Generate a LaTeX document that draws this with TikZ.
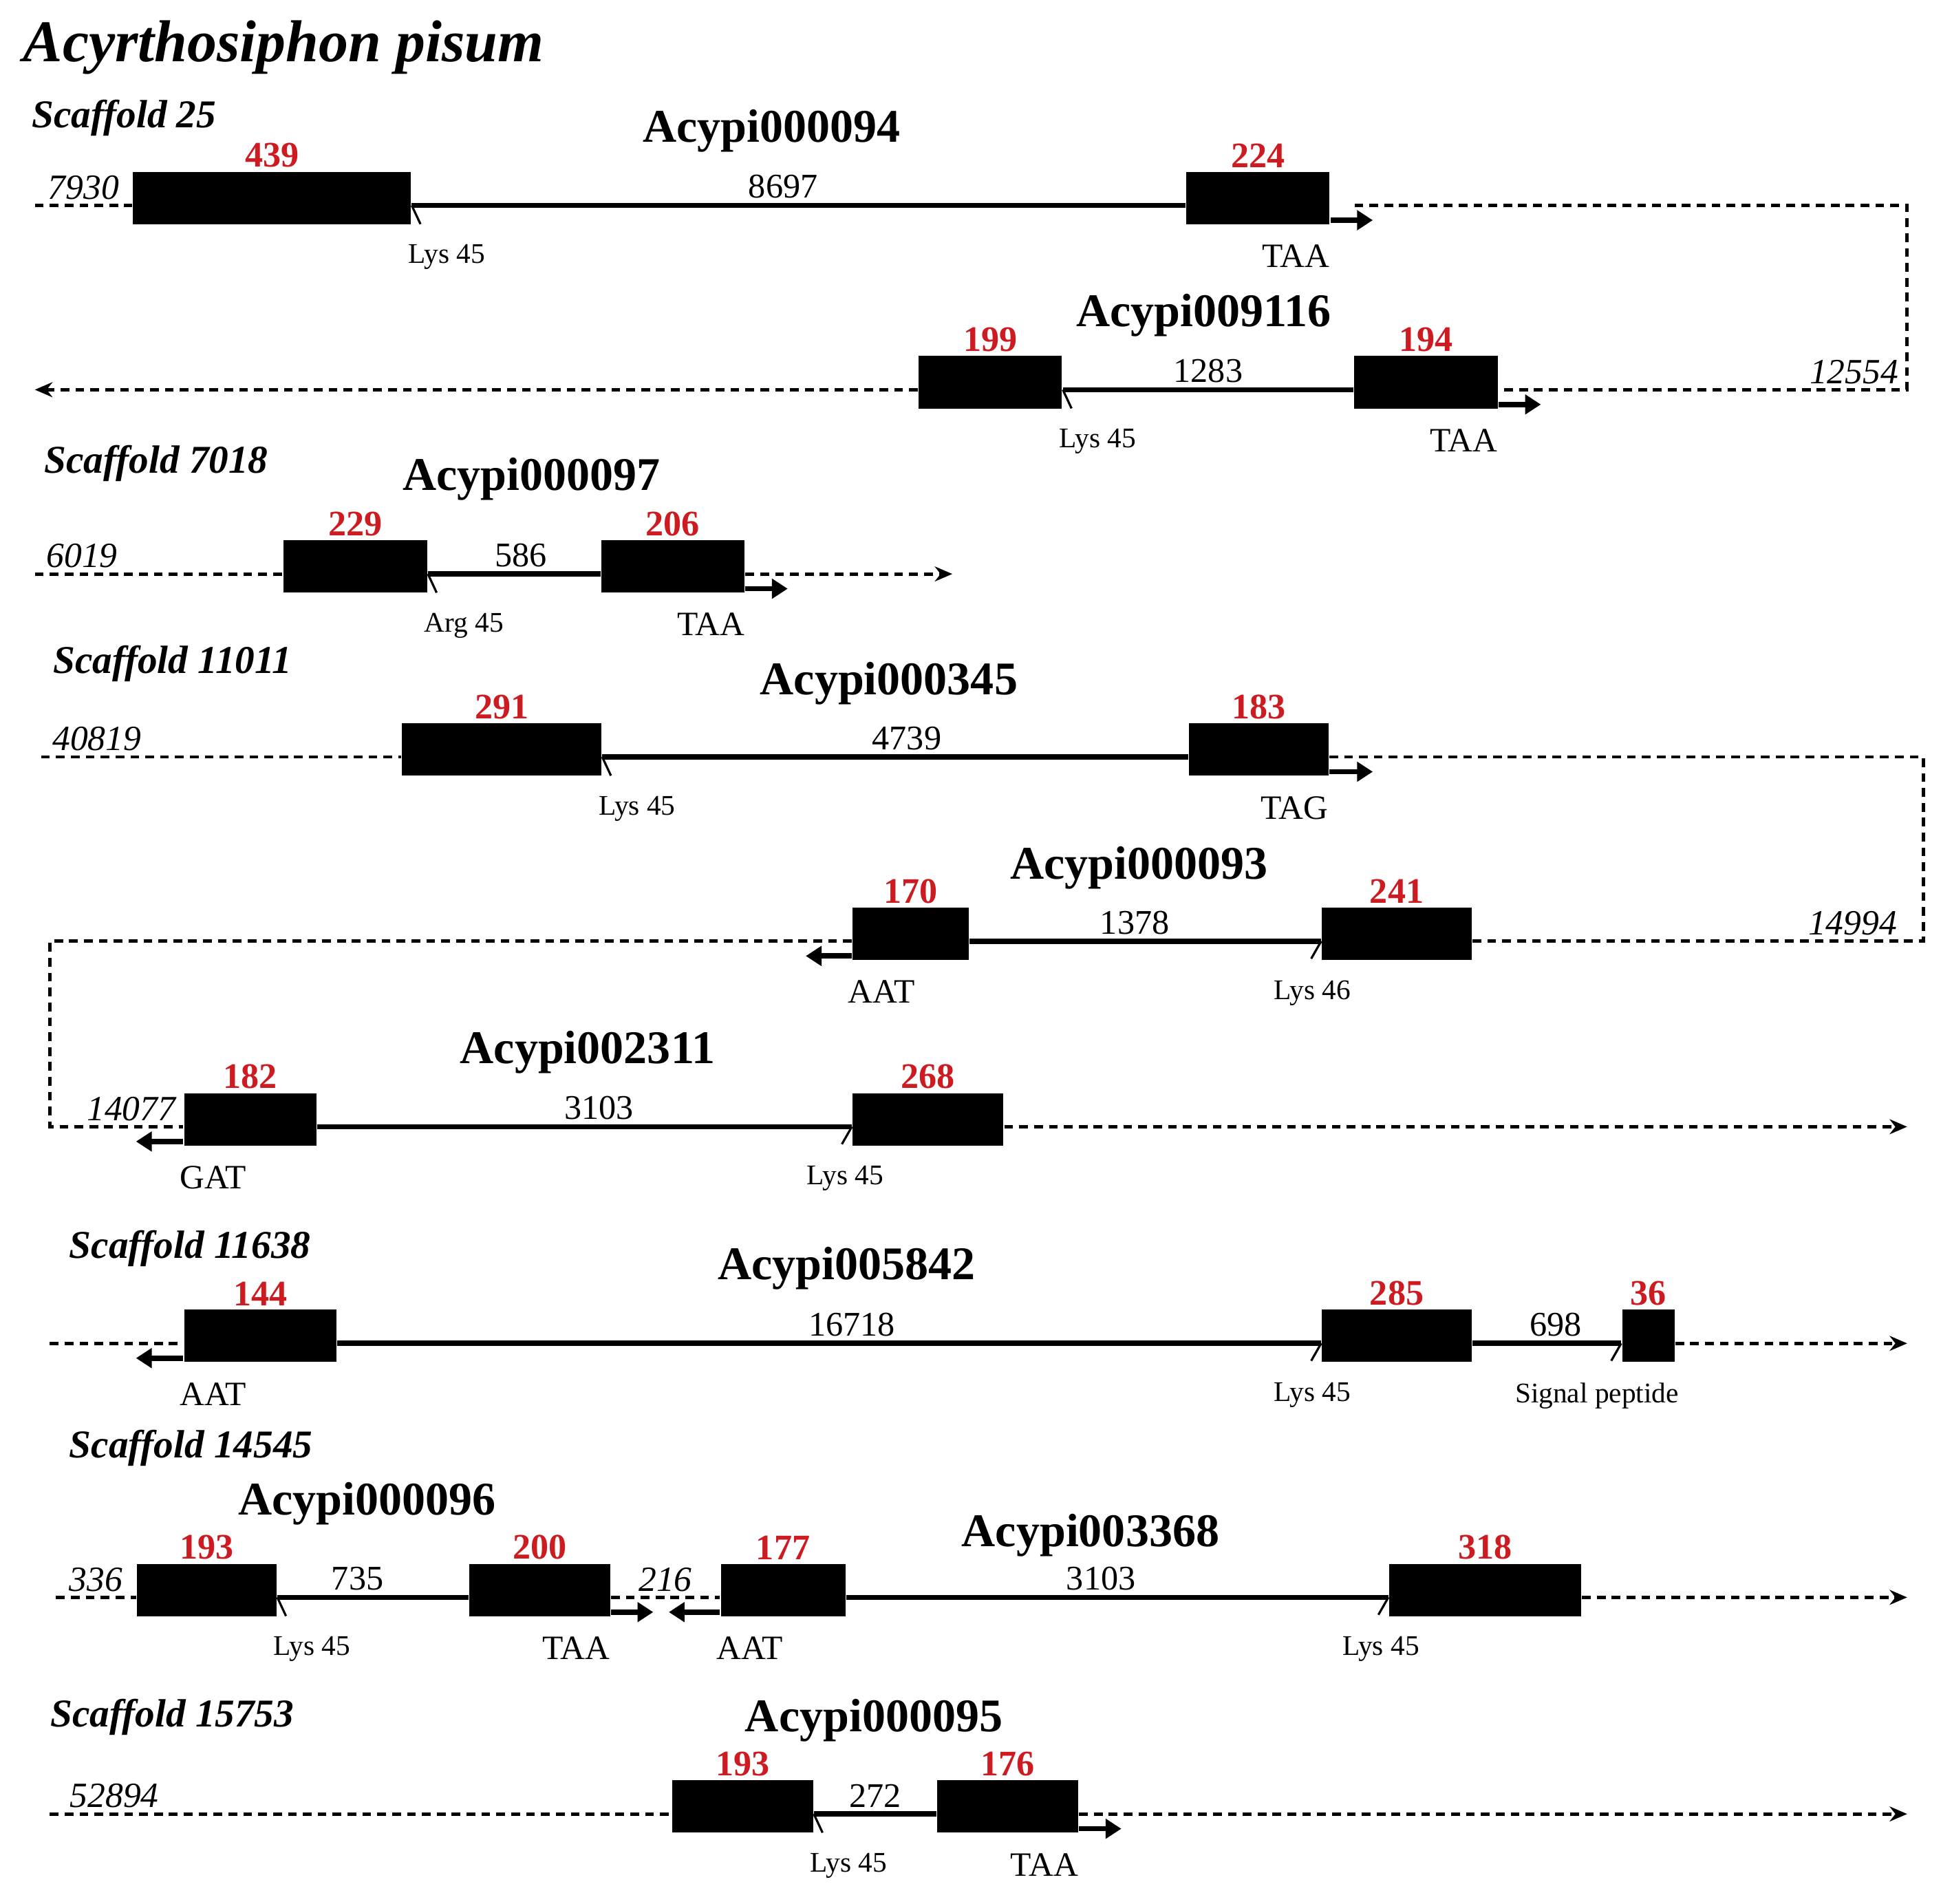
\documentclass[tikz,border=0pt]{standalone}
\usepackage{fontspec}
\setmainfont{Liberation Serif}
\usepackage{tikz}
\usetikzlibrary{arrows.meta,positioning}
\definecolor{clrNum}{RGB}{204,28,34}
\tikzset{
  title/.style={anchor=west,inner sep=0pt,font=\fontsize{13.5}{15}\selectfont\bfseries\itshape},
  scaf/.style={anchor=west,inner sep=0pt,font=\fontsize{9}{11}\selectfont\bfseries\itshape},
  gene/.style={inner sep=0pt,font=\fontsize{10.7}{12}\selectfont\bfseries},
  exon/.style={rectangle,fill=black,draw=none,minimum height=0.42cm,inner sep=0pt},
  exnum/.style={inner sep=0.6pt,text=clrNum,font=\fontsize{8.2}{9}\selectfont\bfseries},
  lenlab/.style={inner sep=1pt,font=\fontsize{7.9}{9}\selectfont},
  poslab/.style={inner sep=1pt,font=\fontsize{8.1}{9}\selectfont\itshape},
  site/.style={inner sep=0pt,font=\fontsize{6.5}{8}\selectfont},
  codon/.style={inner sep=0pt,font=\fontsize{7.8}{9}\selectfont},
  intron/.style={line width=1.2pt},
  splice/.style={line width=0.5pt},
  flank/.style={line width=0.75pt,dash pattern=on 2pt off 1.4pt},
  flankarrow/.style={flank,-{Stealth[length=4pt,width=3.4pt]}},
  stop/.style={line width=1.2pt,-{Triangle[length=3.6pt,width=4.4pt]}}
}
\begin{document}
\begin{tikzpicture}[x=0.01cm,y=-0.01cm]
  \useasboundingbox (0,0) rectangle (1568,1529);
  \node[title] (ttl) at (18,38) {Acyrthosiphon pisum};

  \node[scaf] (sc25) at (25,95) {Scaffold 25};
  \coordinate (r1) at (0,165);
  \coordinate (r2) at (0,313);
  \node[gene] (g94) at (620,105) {Acypi000094};
  \node[exon,minimum width=2.23cm] (e94a) at (218.5,159) {};
  \node[exon,minimum width=1.15cm] (e94b) at (1010.5,159) {};
  \node[exnum,above=0pt of e94a] (n94a) {439};
  \node[exnum,above=0pt of e94b] (n94b) {224};
  \coordinate (f1) at (28,165);
  \draw[flank] (f1) -- node[poslab,above]{7930} (e94a.west |- r1);
  \draw[intron] (e94a.east |- r1) -- node[lenlab,above,pos=0.48]{8697} (e94b.west |- r1);
  \draw[splice] (e94a.east |- r1) -- ++(7,15);
  \node[site,anchor=north west] (s94) at ([xshift=-1pt,yshift=-4.3pt]e94a.south east) {Lys 45};
  \draw[stop] ([yshift=1.1pt]e94b.south east) -- ++(34,0);
  \node[codon,anchor=north east] (c94) at ([yshift=-4.3pt]e94b.south east) {TAA};

  \node[gene] (g9116) at (967,253) {Acypi009116};
  \node[exon,minimum width=1.15cm] (e9116a) at (795.5,307) {};
  \node[exon,minimum width=1.15cm] (e9116b) at (1145.5,307) {};
  \node[exnum,above=0pt of e9116a] (n9116a) {199};
  \node[exnum,above=0pt of e9116b] (n9116b) {194};
  \coordinate (g1) at (1088,165);
  \coordinate (k1) at (1532,165);
  \coordinate (k2) at (1532,313);
  \draw[flank] (g1) -- (k1) -- (k2) -- node[poslab,above,pos=0.13]{12554} (e9116b.east |- r2);
  \coordinate (f2) at (28,313);
  \draw[flankarrow] (e9116a.west |- r2) -- (f2);
  \draw[intron] (e9116a.east |- r2) -- node[lenlab,above]{1283} (e9116b.west |- r2);
  \draw[splice] (e9116a.east |- r2) -- ++(7,15);
  \node[site,anchor=north west] (s9116) at ([xshift=-1pt,yshift=-4.3pt]e9116a.south east) {Lys 45};
  \draw[stop] ([yshift=1.1pt]e9116b.south east) -- ++(34,0);
  \node[codon,anchor=north east] (c9116) at ([yshift=-4.3pt]e9116b.south east) {TAA};

  \node[scaf] (sc7018) at (35,372) {Scaffold 7018};
  \coordinate (r3) at (0,461);
  \node[gene] (g97) at (427,385) {Acypi000097};
  \node[exon,minimum width=1.15cm] (e97a) at (285.5,455) {};
  \node[exon,minimum width=1.15cm] (e97b) at (540.5,455) {};
  \node[exnum,above=0pt of e97a] (n97a) {229};
  \node[exnum,above=0pt of e97b] (n97b) {206};
  \coordinate (f3) at (28,461);
  \coordinate (h3) at (765,461);
  \draw[flank] (f3) -- node[poslab,above,pos=0.19]{6019} (e97a.west |- r3);
  \draw[intron] (e97a.east |- r3) -- node[lenlab,above,pos=0.54]{586} (e97b.west |- r3);
  \draw[flankarrow] (e97b.east |- r3) -- (h3);
  \draw[splice] (e97a.east |- r3) -- ++(7,15);
  \node[site,anchor=north west] (s97) at ([xshift=-1pt,yshift=-4.3pt]e97a.south east) {Arg 45};
  \draw[stop] ([yshift=1.1pt]e97b.south east) -- ++(34,0);
  \node[codon,anchor=north east] (c97) at ([yshift=-4.3pt]e97b.south east) {TAA};

  \node[scaf] (sc11011) at (42,533) {Scaffold 11011};
  \coordinate (r4) at (0,608);
  \coordinate (r5) at (0,756);
  \node[gene] (g345) at (714,549) {Acypi000345};
  \node[exon,minimum width=1.60cm] (e345a) at (403,602) {};
  \node[exon,minimum width=1.12cm] (e345b) at (1011,602) {};
  \node[exnum,above=0pt of e345a] (n345a) {291};
  \node[exnum,above=0pt of e345b] (n345b) {183};
  \coordinate (f4) at (33,608);
  \draw[flank] (f4) -- node[poslab,above,pos=0.155]{40819} (e345a.west |- r4);
  \draw[intron] (e345a.east |- r4) -- node[lenlab,above,pos=0.52]{4739} (e345b.west |- r4);
  \draw[splice] (e345a.east |- r4) -- ++(7,15);
  \node[site,anchor=north west] (s345) at ([xshift=-1pt,yshift=-4.3pt]e345a.south east) {Lys 45};
  \draw[stop] ([yshift=1.1pt]e345b.south east) -- ++(35,0);
  \node[codon,anchor=north east] (c345) at ([yshift=-4.3pt]e345b.south east) {TAG};

  \node[gene] (g93) at (915,697) {Acypi000093};
  \node[exon,minimum width=0.93cm] (e93a) at (731.5,750) {};
  \node[exon,minimum width=1.20cm] (e93b) at (1122,750) {};
  \node[exnum,above=0pt of e93a] (n93a) {170};
  \node[exnum,above=0pt of e93b] (n93b) {241};
  \coordinate (k3) at (1545,608);
  \coordinate (k4) at (1545,756);
  \draw[flank] (e345b.east |- r4) -- (k3) -- (k4) -- node[poslab,above,pos=0.157]{14994} (e93b.east |- r5);
  \draw[intron] (e93a.east |- r5) -- node[lenlab,above,pos=0.47]{1378} (e93b.west |- r5);
  \draw[splice] (e93b.west |- r5) -- ++(-8,14);
  \node[site,anchor=north] (s93) at ([xshift=-2pt,yshift=-4.3pt]e93b.south west) {Lys 46};
  \draw[stop] ([yshift=1.1pt]e93a.south west) -- ++(-37,0);
  \node[codon,anchor=north west] (c93) at ([xshift=-1pt,yshift=-4.3pt]e93a.south west) {AAT};

  \node[gene] (g2311) at (472,845) {Acypi002311};
  \coordinate (r6) at (0,905);
  \node[exon,minimum width=1.06cm] (e2311a) at (201,899) {};
  \node[exon,minimum width=1.21cm] (e2311b) at (745.5,899) {};
  \node[exnum,above=0pt of e2311a] (n2311a) {182};
  \node[exnum,above=0pt of e2311b] (n2311b) {268};
  \coordinate (k5) at (40,756);
  \coordinate (k6) at (40,905);
  \coordinate (h6) at (1532,905);
  \draw[flank] (e93a.west |- r5) -- (k5) -- (k6) -- node[poslab,above,pos=0.61]{14077} (e2311a.west |- r6);
  \draw[intron] (e2311a.east |- r6) -- node[lenlab,above,pos=0.527]{3103} (e2311b.west |- r6);
  \draw[flankarrow] (e2311b.east |- r6) -- (h6);
  \draw[splice] (e2311b.west |- r6) -- ++(-8,14);
  \node[site,anchor=north] (s2311) at ([xshift=-1.5pt,yshift=-4.3pt]e2311b.south west) {Lys 45};
  \draw[stop] ([yshift=1.1pt]e2311a.south west) -- ++(-38,0);
  \node[codon,anchor=north west] (c2311) at ([xshift=-1pt,yshift=-4.3pt]e2311a.south west) {GAT};

  \node[scaf] (sc11638) at (55,1003) {Scaffold 11638};
  \coordinate (r7) at (0,1079);
  \node[gene] (g5842) at (680,1019) {Acypi005842};
  \node[exon,minimum width=1.22cm] (e5842a) at (209,1073) {};
  \node[exon,minimum width=1.20cm] (e5842b) at (1122,1073) {};
  \node[exon,minimum width=0.42cm] (e5842c) at (1324,1073) {};
  \node[exnum,above=0pt of e5842a] (n5842a) {144};
  \node[exnum,above=0pt of e5842b] (n5842b) {285};
  \node[exnum,above=0pt of e5842c] (n5842c) {36};
  \coordinate (f7) at (40,1079);
  \coordinate (h7) at (1532,1079);
  \draw[flank] (f7) -- (e5842a.west |- r7);
  \draw[intron] (e5842a.east |- r7) -- node[lenlab,above,pos=0.523]{16718} (e5842b.west |- r7);
  \draw[intron] (e5842b.east |- r7) -- node[lenlab,above,pos=0.56]{698} (e5842c.west |- r7);
  \draw[flankarrow] (e5842c.east |- r7) -- (h7);
  \draw[splice] (e5842b.west |- r7) -- ++(-8,14);
  \draw[splice] (e5842c.west |- r7) -- ++(-8,14);
  \node[site,anchor=north] (s5842b) at ([xshift=-2pt,yshift=-4.3pt]e5842b.south west) {Lys 45};
  \node[site,anchor=north east] (s5842c) at ([xshift=1pt,yshift=-4.3pt]e5842c.south east) {Signal peptide};
  \draw[stop] ([yshift=1.1pt]e5842a.south west) -- ++(-38,0);
  \node[codon,anchor=north west] (c5842) at ([xshift=-1pt,yshift=-4.3pt]e5842a.south west) {AAT};

  \node[scaf] (sc14545) at (55,1163) {Scaffold 14545};
  \coordinate (r8) at (0,1283);
  \node[gene] (g96) at (295,1208) {Acypi000096};
  \node[gene] (g3368) at (876,1233) {Acypi003368};
  \node[exon,minimum width=1.12cm] (e96a) at (166,1277) {};
  \node[exon,minimum width=1.13cm] (e96b) at (433.5,1277) {};
  \node[exon,minimum width=1.00cm] (e3368a) at (629,1277) {};
  \node[exon,minimum width=1.54cm] (e3368b) at (1193,1277) {};
  \node[exnum,above=0pt of e96a] (n96a) {193};
  \node[exnum,above=0pt of e96b] (n96b) {200};
  \node[exnum,above=0pt of e3368a] (n3368a) {177};
  \node[exnum,above=0pt of e3368b] (n3368b) {318};
  \coordinate (f8) at (45,1283);
  \coordinate (h8) at (1532,1283);
  \draw[flank] (f8) -- node[poslab,above]{336} (e96a.west |- r8);
  \draw[intron] (e96a.east |- r8) -- node[lenlab,above,pos=0.42]{735} (e96b.west |- r8);
  \draw[flank] (e96b.east |- r8) -- node[poslab,above]{216} (e3368a.west |- r8);
  \draw[intron] (e3368a.east |- r8) -- node[lenlab,above,pos=0.47]{3103} (e3368b.west |- r8);
  \draw[flankarrow] (e3368b.east |- r8) -- (h8);
  \draw[splice] (e96a.east |- r8) -- ++(7,15);
  \draw[splice] (e3368b.west |- r8) -- ++(-8,14);
  \node[site,anchor=north west] (s96) at ([xshift=-1pt,yshift=-4.3pt]e96a.south east) {Lys 45};
  \node[site,anchor=north] (s3368) at ([xshift=-1.7pt,yshift=-4.3pt]e3368b.south west) {Lys 45};
  \draw[stop] ([yshift=1.1pt]e96b.south east) -- ++(34,0);
  \draw[stop] ([yshift=1.1pt]e3368a.south west) -- ++(-41,0);
  \node[codon,anchor=north east] (c96) at ([yshift=-4.3pt]e96b.south east) {TAA};
  \node[codon,anchor=north west] (c3368) at ([xshift=-1pt,yshift=-4.3pt]e3368a.south west) {AAT};

  \node[scaf] (sc15753) at (40,1379) {Scaffold 15753};
  \coordinate (r9) at (0,1457);
  \node[gene] (g95) at (702,1382) {Acypi000095};
  \node[exon,minimum width=1.13cm] (e95a) at (596.5,1451) {};
  \node[exon,minimum width=1.13cm] (e95b) at (809.5,1451) {};
  \node[exnum,above=0pt of e95a] (n95a) {193};
  \node[exnum,above=0pt of e95b] (n95b) {176};
  \coordinate (f9) at (40,1457);
  \coordinate (h9) at (1532,1457);
  \draw[flank] (f9) -- node[poslab,above,pos=0.104]{52894} (e95a.west |- r9);
  \draw[intron] (e95a.east |- r9) -- node[lenlab,above]{272} (e95b.west |- r9);
  \draw[flankarrow] (e95b.east |- r9) -- (h9);
  \draw[splice] (e95a.east |- r9) -- ++(7,15);
  \node[site,anchor=north west] (s95) at ([xshift=-1pt,yshift=-4.3pt]e95a.south east) {Lys 45};
  \draw[stop] ([yshift=1.1pt]e95b.south east) -- ++(34,0);
  \node[codon,anchor=north east] (c95) at ([yshift=-4.3pt]e95b.south east) {TAA};
\end{tikzpicture}
\end{document}
